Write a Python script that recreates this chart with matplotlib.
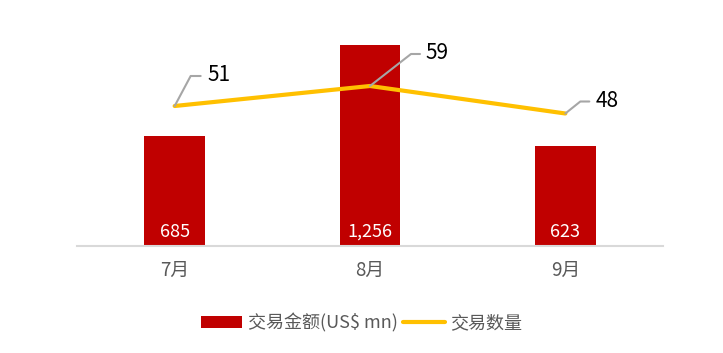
import matplotlib
matplotlib.use('Agg')
import matplotlib.pyplot as plt
import numpy as np

plt.rcParams['font.family'] = ['Noto Sans CJK SC', 'DejaVu Sans']

# 数据
months = ['7月', '8月', '9月']
amount = [685, 1256, 623]      # 交易金额 (US$ mn)
count = [51, 59, 48]           # 交易数量

bar_color = '#C00000'
line_color = '#FFC000'
grey_text = '#595959'

fig = plt.figure(figsize=(7.23, 3.53), dpi=100)
ax = fig.add_axes([0.1065, 0.3031, 0.8105, 0.6346])
x = np.arange(len(months))

bars = ax.bar(x, amount, width=0.31, color=bar_color, label='交易金额(US$ mn)')
ax.set_xlim(-0.5, 2.5)
ax.set_ylim(0, 1400)
ax.set_xticks(x)
ax.set_xticklabels(months, fontsize=13.5, color=grey_text)
ax.tick_params(axis='x', length=0, pad=10)
ax.set_yticks([])
for s in ['top', 'left', 'right']:
    ax.spines[s].set_visible(False)
ax.spines['bottom'].set_color('#D9D9D9')
ax.spines['bottom'].set_linewidth(1.5)

# 柱内标签
for i, v in enumerate(amount):
    ax.annotate(f'{v:,}', xy=(i, 0), xytext=(0, 14), textcoords='offset pixels',
                ha='center', va='center', color='white', fontsize=13)

# 次坐标轴 - 折线
ax2 = ax.twinx()
ax2.set_ylim(-5, 84.6)
line, = ax2.plot(x, count, color=line_color, lw=3, label='交易数量', solid_capstyle='round')
ax2.set_yticks([])
for s in ['top', 'left', 'right', 'bottom']:
    ax2.spines[s].set_visible(False)

# 引导线标签
offsets = [((16, 30), (26, 30), (33, 31)),
           ((41, 32), (50, 32), (55, 33)),
           ((15, 12), (24, 12), (30, 12))]
for i, v in enumerate(count):
    elbow, end, txt = offsets[i]
    angB = np.degrees(np.arctan2(elbow[1], elbow[0]))
    ax2.annotate('', xy=(i, v), xytext=end, textcoords='offset pixels',
                 arrowprops=dict(arrowstyle='-', color='#A6A6A6', lw=1.5,
                                 shrinkA=0, shrinkB=0,
                                 connectionstyle=f'angle,angleA=0,angleB={angB},rad=0'))
    ax2.annotate(str(v), xy=(i, v), xytext=txt, textcoords='offset pixels',
                 ha='left', va='center', fontsize=15, color='black')

leg = fig.legend([bars, line], ['交易金额(US$ mn)', '交易数量'], loc='center',
                 bbox_to_anchor=(0.5, 0.085), ncol=2, frameon=False, fontsize=13,
                 handlelength=2.3, handleheight=0.6, handletextpad=0.3, columnspacing=0.3)
for t in leg.get_texts():
    t.set_color(grey_text)

fig.savefig('out.png', dpi=100)
